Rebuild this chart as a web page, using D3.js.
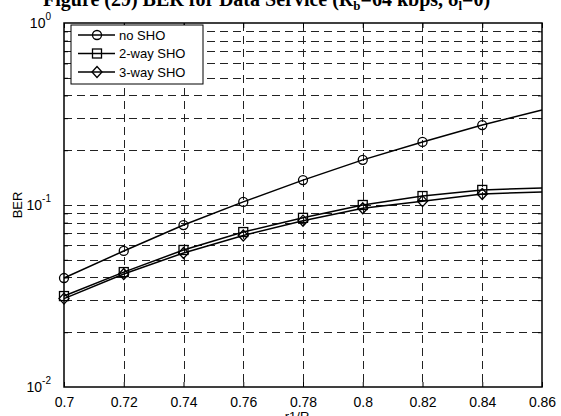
<!DOCTYPE html>
<html>
<head>
<meta charset="utf-8">
<script src="https://cdnjs.cloudflare.com/ajax/libs/d3/7.8.5/d3.min.js"></script>
<style>
body { margin: 0; background: #fff; }
svg { display: block; }
</style>
</head>
<body>
<div id="chart"></div>
<script>
// data
var xVals = [0.70, 0.72, 0.74, 0.76, 0.78, 0.80, 0.82, 0.84, 0.86];
var noSHO = [0.0397, 0.0559, 0.0776, 0.104, 0.137, 0.177, 0.222, 0.275, 0.333];
var twoWay = [0.0316, 0.0428, 0.0566, 0.0710, 0.0850, 0.100, 0.112, 0.121, 0.124];
var threeWay = [0.0306, 0.0418, 0.0545, 0.0680, 0.0820, 0.096, 0.105, 0.115, 0.118];
var seriesNames = ["no SHO", "2-way SHO", "3-way SHO"];
var markers = ["circle", "square", "diamond"];
var xTicks = [0.7, 0.72, 0.74, 0.76, 0.78, 0.8, 0.82, 0.84, 0.86];
var yDecades = [-2, -1, 0];

var width = 561, height = 416;
var margin = {left: 64, right: 19, top: 23, bottom: 29};
var pw = width - margin.left - margin.right;
var ph = height - margin.top - margin.bottom;

var svg = d3.select("#chart").append("svg")
    .attr("width", width).attr("height", height);

var x = d3.scaleLinear().domain([0.7, 0.86]).range([margin.left, margin.left + pw]);
var y = d3.scaleLog().domain([0.01, 1]).range([margin.top + ph, margin.top]);

// grid lines (dashed)
var minorY = [];
[0.01, 0.1].forEach(function(d) {
    for (var k = 2; k <= 9; k++) minorY.push(d * k);
});
var grid = svg.append("g").attr("stroke", "#222").attr("stroke-width", 1)
    .attr("stroke-dasharray", "8,5");
minorY.concat([0.1]).forEach(function(v) {
    grid.append("line")
	.attr("x1", margin.left).attr("x2", margin.left + pw)
	.attr("y1", Math.round(y(v)) + 0.5).attr("y2", Math.round(y(v)) + 0.5);
});
xTicks.slice(1, -1).forEach(function(v) {
    grid.append("line")
	.attr("x1", Math.round(x(v)) + 0.5).attr("x2", Math.round(x(v)) + 0.5)
	.attr("y1", margin.top).attr("y2", margin.top + ph);
});

// axes, built with d3 axis then ticks pointed inward
var font = "'Liberation Sans', Arial, sans-serif";
var bottomAx = svg.append("g")
    .attr("transform", "translate(0," + (margin.top + ph) + ")")
    .call(d3.axisBottom(x).tickValues(xTicks).tickSizeInner(-5).tickSizeOuter(0)
	  .tickPadding(10).tickFormat(function(d) { return String(+d.toFixed(2)); }));
bottomAx.select(".domain").remove();
bottomAx.selectAll("text").attr("font-family", font).attr("font-size", 14)
    .attr("fill", "#000");
bottomAx.selectAll("line").attr("stroke-width", 1);

var topAx = svg.append("g")
    .attr("transform", "translate(0," + margin.top + ")")
    .call(d3.axisTop(x).tickValues(xTicks).tickSizeInner(-5).tickSizeOuter(0).tickFormat(""));
topAx.select(".domain").remove();

var leftAx = svg.append("g")
    .attr("transform", "translate(" + margin.left + ",0)")
    .call(d3.axisLeft(y).tickValues(minorY).tickSizeInner(-4).tickSizeOuter(0).tickFormat(""));
leftAx.select(".domain").remove();
var rightAx = svg.append("g")
    .attr("transform", "translate(" + (margin.left + pw) + ",0)")
    .call(d3.axisRight(y).tickValues(minorY).tickSizeInner(-4).tickSizeOuter(0).tickFormat(""));
rightAx.select(".domain").remove();

// y decade labels 10^n
yDecades.forEach(function(e) {
    var t = svg.append("text")
	.attr("x", margin.left - 13).attr("y", y(Math.pow(10, e)) + 5)
	.attr("text-anchor", "end")
	.attr("font-family", font).attr("font-size", 14);
    t.append("tspan").text("10");
    t.append("tspan").attr("dy", -8).attr("font-size", 10).text(e);
});

// frame
svg.append("rect")
    .attr("x", margin.left).attr("y", margin.top)
    .attr("width", pw).attr("height", ph)
    .attr("fill", "none").attr("stroke", "#000").attr("stroke-width", 1.5);

// series
var allSeries = [noSHO, twoWay, threeWay];
var line = d3.line()
    .x(function(d, i) { return x(xVals[i]); })
    .y(function(d) { return y(d); });

function drawMarker(g, kind, cx, cy) {
    if (kind == "circle") {
	g.append("circle").attr("cx", cx).attr("cy", cy).attr("r", 4.5);
    } else if (kind == "square") {
	g.append("rect").attr("x", cx - 4.5).attr("y", cy - 4.5)
	    .attr("width", 9).attr("height", 9);
    } else {
	g.append("path").attr("d", "M" + cx + "," + (cy - 5.5) + "L" + (cx + 5) + "," + cy +
			      "L" + cx + "," + (cy + 5.5) + "L" + (cx - 5) + "," + cy + "Z");
    }
}

var plot = svg.append("g");
allSeries.forEach(function(s, si) {
    plot.append("path").datum(s)
	.attr("d", line)
	.attr("fill", "none").attr("stroke", "#000").attr("stroke-width", 1.5);
    var mg = plot.append("g").attr("fill", "none").attr("stroke", "#000").attr("stroke-width", 1.3);
    s.forEach(function(v, i) {
	if (i < s.length - 1) drawMarker(mg, markers[si], x(xVals[i]), y(v));
    });
});

// legend
var lg = svg.append("g");
lg.append("rect").attr("x", 71).attr("y", 25).attr("width", 132).attr("height", 59)
    .attr("fill", "#fff").attr("stroke", "#000").attr("stroke-width", 1);
seriesNames.forEach(function(name, i) {
    var ly = 35 + i * 18.5;
    lg.append("line").attr("x1", 78).attr("x2", 115).attr("y1", ly).attr("y2", ly)
	.attr("stroke", "#000").attr("stroke-width", 1.5);
    var mg = lg.append("g").attr("fill", "none").attr("stroke", "#000").attr("stroke-width", 1.3);
    drawMarker(mg, markers[i], 97, ly);
    lg.append("text").attr("x", 119).attr("y", ly + 4.5)
	.attr("font-family", font).attr("font-size", 13).text(name);
});

// axis titles
svg.append("text")
    .attr("transform", "translate(22," + (margin.top + ph / 2) + ") rotate(-90)")
    .attr("text-anchor", "middle")
    .attr("font-family", font).attr("font-size", 13).text("BER");
svg.append("text")
    .attr("x", margin.left + pw / 2 - 6).attr("y", 421)
    .attr("text-anchor", "middle")
    .attr("font-family", font).attr("font-size", 13).text("r1/R");

// title, cut off at the top as in the original
var title = svg.append("text")
    .attr("x", 43).attr("y", 6)
    .attr("font-family", "'Liberation Serif', 'Times New Roman', serif")
    .attr("font-weight", "bold").attr("font-size", 20);
title.append("tspan").text("Figure (29) BER for Data Service (R");
title.append("tspan").attr("dy", 4).attr("font-size", 13).text("b");
title.append("tspan").attr("dy", -4).text("=64 kbps, \u03b4");
title.append("tspan").attr("dy", 4).attr("font-size", 13).text("l");
title.append("tspan").attr("dy", -4).text("=0)");
</script>
</body>
</html>
